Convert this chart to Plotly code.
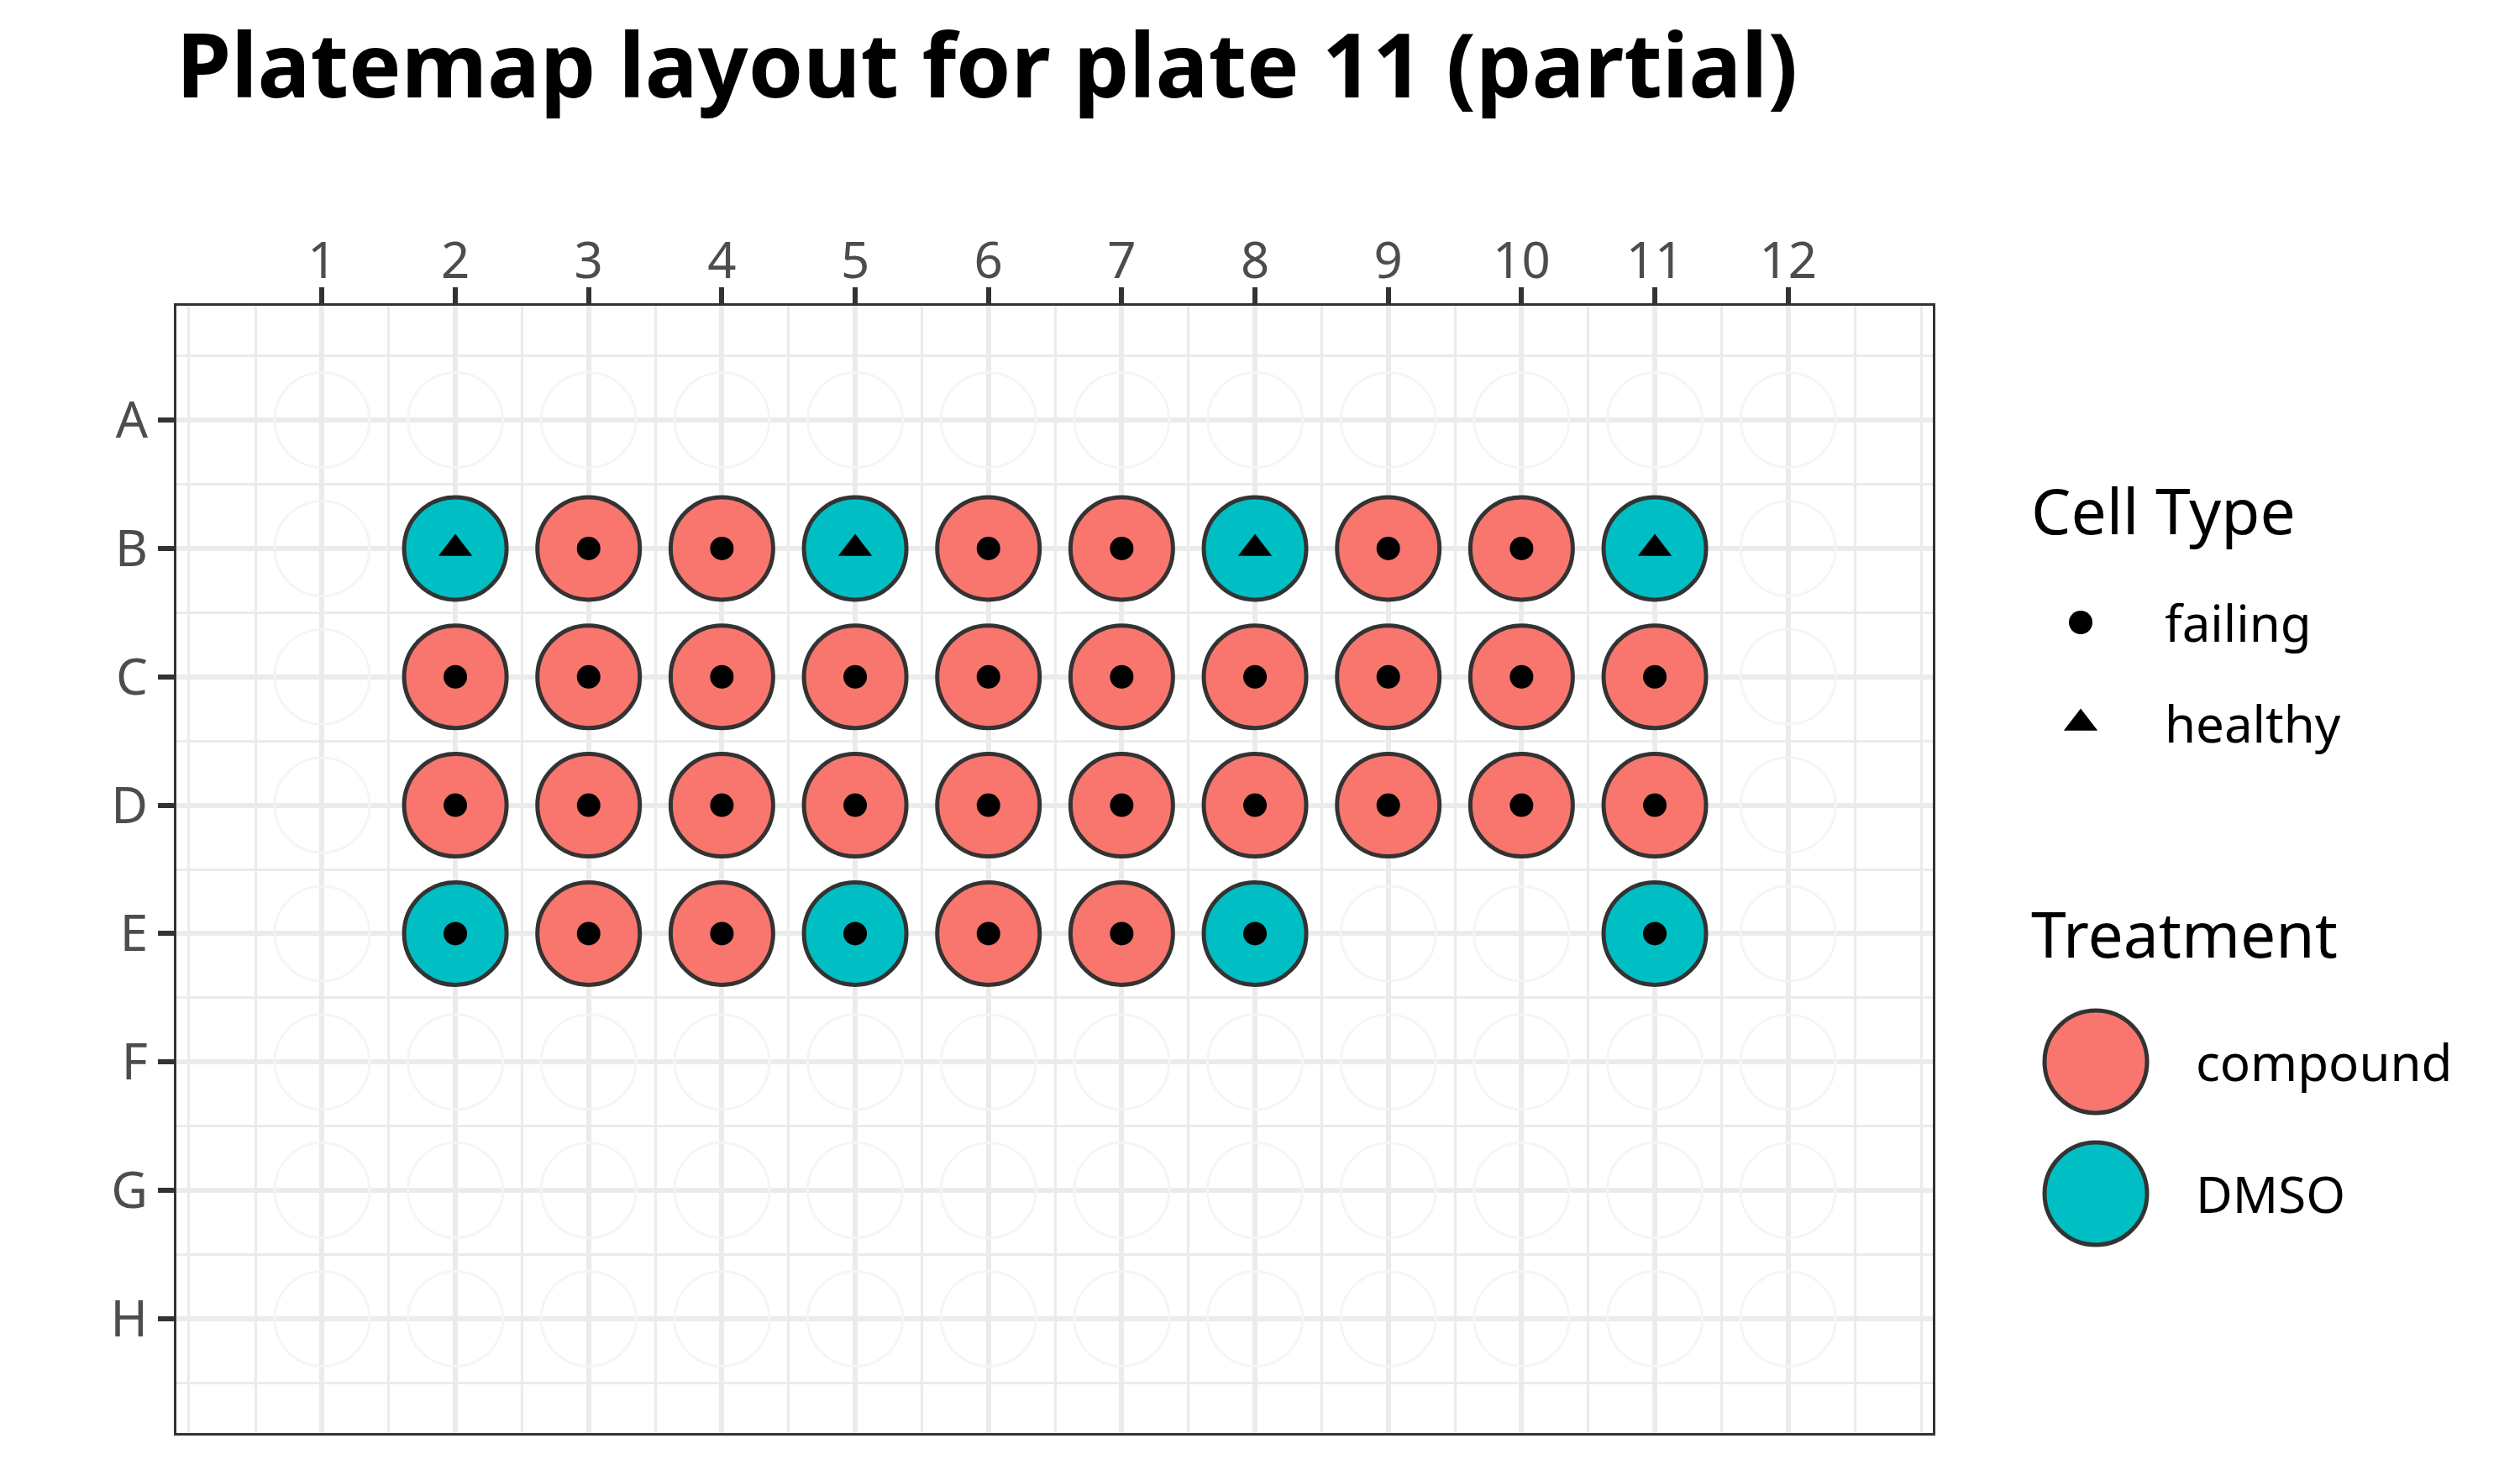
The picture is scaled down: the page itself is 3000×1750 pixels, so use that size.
import plotly.graph_objects as go

# ---------------- data ----------------
ROWS = ["A", "B", "C", "D", "E", "F", "G", "H"]
COLS = [1, 2, 3, 4, 5, 6, 7, 8, 9, 10, 11, 12]

WELLS = [
    "B02", "B03", "B04", "B05", "B06", "B07", "B08", "B09", "B10", "B11",
    "C02", "C03", "C04", "C05", "C06", "C07", "C08", "C09", "C10", "C11",
    "D02", "D03", "D04", "D05", "D06", "D07", "D08", "D09", "D10", "D11",
    "E02", "E03", "E04", "E05", "E06", "E07", "E08", "E11",
]
TREATMENT = [
    "DMSO", "compound", "compound", "DMSO", "compound", "compound", "DMSO", "compound", "compound", "DMSO",
    "compound", "compound", "compound", "compound", "compound", "compound", "compound", "compound", "compound", "compound",
    "compound", "compound", "compound", "compound", "compound", "compound", "compound", "compound", "compound", "compound",
    "DMSO", "compound", "compound", "DMSO", "compound", "compound", "DMSO", "DMSO",
]
CELL_TYPE = [
    "healthy", "failing", "failing", "healthy", "failing", "failing", "healthy", "failing", "failing", "healthy",
    "failing", "failing", "failing", "failing", "failing", "failing", "failing", "failing", "failing", "failing",
    "failing", "failing", "failing", "failing", "failing", "failing", "failing", "failing", "failing", "failing",
    "failing", "failing", "failing", "failing", "failing", "failing", "failing", "failing",
]
TREATMENT_LEVELS = ["compound", "DMSO"]
CELL_LEVELS = ["failing", "healthy"]
TITLE = "Platemap layout for plate 11 (partial)"

# ---------------- styles ----------------
FONT = "Noto Sans"
TREAT_COLORS = {"compound": "#F8766D", "DMSO": "#00BFC4"}
CELL_SYMBOLS = {"failing": "circle", "healthy": "triangle-up"}
CELL_SIZES = {"failing": 28, "healthy": 35}
WELL_SIZE = 122
WELL_LINE = 5
EDGE = "#333333"
GRID = "#ebebeb"

W, H = 3000, 1750
ML, MR, MT, MB = 210, 30, 364, 44
PW = W - ML - MR
PLOT_RIGHT_PX = 2301
LEG_X0, LEG_X1 = 2380, 2970

row_idx = [ROWS.index(w[0]) + 1 for w in WELLS]
col_idx = [int(w[1:]) for w in WELLS]

fig = go.Figure()

# background (empty) wells
bx = [c for r in ROWS for c in COLS]
by = [ROWS.index(r) + 1 for r in ROWS for c in COLS]
fig.add_trace(go.Scatter(
    x=bx, y=by, mode="markers", hoverinfo="skip", showlegend=False, cliponaxis=False,
    marker=dict(size=113, color="rgba(0,0,0,0)", line=dict(color="#f5f5f5", width=3)),
))

# filled wells by treatment
for t in TREATMENT_LEVELS:
    xs = [c for c, tt in zip(col_idx, TREATMENT) if tt == t]
    ys = [r for r, tt in zip(row_idx, TREATMENT) if tt == t]
    fig.add_trace(go.Scatter(
        x=xs, y=ys, mode="markers", name=t, showlegend=False, cliponaxis=False,
        marker=dict(size=WELL_SIZE, color=TREAT_COLORS[t], line=dict(color=EDGE, width=WELL_LINE)),
    ))

# cell type symbols
for ct in CELL_LEVELS:
    xs = [c for c, cc in zip(col_idx, CELL_TYPE) if cc == ct]
    ys = [r for r, cc in zip(row_idx, CELL_TYPE) if cc == ct]
    fig.add_trace(go.Scatter(
        x=xs, y=ys, mode="markers", name=ct, showlegend=False, cliponaxis=False,
        marker=dict(size=CELL_SIZES[ct], color="black", symbol=CELL_SYMBOLS[ct], line=dict(width=0)),
    ))

# ---------------- manual legend (pixel-unit axes) ----------------
LEG_KEY_X_SMALL = 2477
LEG_KEY_X_BIG = 2495
LEG_TEXT_X_SMALL = 2575
LEG_TEXT_X_BIG = 2612
LEG_TITLE_X = 2416
CELL_TITLE_Y = 607
CELL_ITEM_Y = [741, 861]
TREAT_TITLE_Y = 1111
TREAT_ITEM_Y = [1264, 1421]

for ct, yy in zip(CELL_LEVELS, CELL_ITEM_Y):
    fig.add_trace(go.Scatter(
        x=[LEG_KEY_X_SMALL], y=[yy], xaxis="x2", yaxis="y2", mode="markers",
        showlegend=False, hoverinfo="skip", cliponaxis=False,
        marker=dict(size=CELL_SIZES[ct], color="black", symbol=CELL_SYMBOLS[ct], line=dict(width=0)),
    ))
for t, yy in zip(TREATMENT_LEVELS, TREAT_ITEM_Y):
    fig.add_trace(go.Scatter(
        x=[LEG_KEY_X_BIG], y=[yy], xaxis="x2", yaxis="y2", mode="markers",
        showlegend=False, hoverinfo="skip", cliponaxis=False,
        marker=dict(size=WELL_SIZE, color=TREAT_COLORS[t], line=dict(color=EDGE, width=WELL_LINE)),
    ))

annotations = []
def leg_text(txt, x, y, size):
    annotations.append(dict(
        text=txt, x=x, y=y, xref="x2", yref="y2", xanchor="left", yanchor="middle",
        showarrow=False, font=dict(family=FONT, size=size, color="black"),
    ))

leg_text("Cell Type", LEG_TITLE_X, CELL_TITLE_Y, 75)
for ct, yy in zip(CELL_LEVELS, CELL_ITEM_Y):
    leg_text(ct, LEG_TEXT_X_SMALL, yy, 60)
leg_text("Treatment", LEG_TITLE_X, TREAT_TITLE_Y, 75)
for t, yy in zip(TREATMENT_LEVELS, TREAT_ITEM_Y):
    leg_text(t, LEG_TEXT_X_BIG, yy, 60)

tickfont = dict(family=FONT, size=60, color="#4d4d4d")
x_minor = [0] + [c - 0.5 for c in COLS] + [COLS[-1] + 0.5, COLS[-1] + 1]
y_minor = [r - 0.5 for r in range(1, len(ROWS) + 1)] + [len(ROWS) + 0.5]

fig.update_layout(
    width=W, height=H,
    margin=dict(l=ML, r=MR, t=MT, b=MB, pad=0),
    paper_bgcolor="white", plot_bgcolor="white",
    showlegend=False,
    title=dict(
        text=TITLE, x=0, xref="paper", xanchor="left",
        y=1 - 79 / H, yref="container", yanchor="middle",
        font=dict(family=FONT, size=105, color="black", weight="bold"),
    ),
    xaxis=dict(
        domain=[0, (PLOT_RIGHT_PX - ML) / PW],
        range=[-0.093, 13.086], side="top",
        tickmode="array", tickvals=COLS, ticktext=[str(c) for c in COLS],
        ticks="outside", ticklen=19, tickwidth=6, tickcolor=EDGE,
        tickfont=tickfont, ticklabelstandoff=-13,
        showline=True, mirror=True, linecolor=EDGE, linewidth=3,
        showgrid=True, gridcolor=GRID, gridwidth=6, zeroline=False,
        minor=dict(tickmode="array", tickvals=x_minor, showgrid=True, gridcolor=GRID, gridwidth=3, ticks=""),
        fixedrange=True,
    ),
    yaxis=dict(
        domain=[0, 1],
        range=[8.89, 0.11],
        tickmode="array", tickvals=list(range(1, len(ROWS) + 1)), ticktext=ROWS,
        ticks="outside", ticklen=19, tickwidth=6, tickcolor=EDGE,
        tickfont=tickfont,
        showline=True, mirror=True, linecolor=EDGE, linewidth=3,
        showgrid=True, gridcolor=GRID, gridwidth=6, zeroline=False,
        minor=dict(tickmode="array", tickvals=y_minor, showgrid=True, gridcolor=GRID, gridwidth=3, ticks=""),
        fixedrange=True,
    ),
    xaxis2=dict(
        domain=[(LEG_X0 - ML) / PW, (LEG_X1 - ML) / PW], range=[LEG_X0, LEG_X1],
        visible=False, fixedrange=True, anchor="y2",
    ),
    yaxis2=dict(
        domain=[0, 1], range=[H - MB, MT], visible=False, fixedrange=True, anchor="x2",
    ),
    annotations=annotations,
)

fig.write_html("out.html")
